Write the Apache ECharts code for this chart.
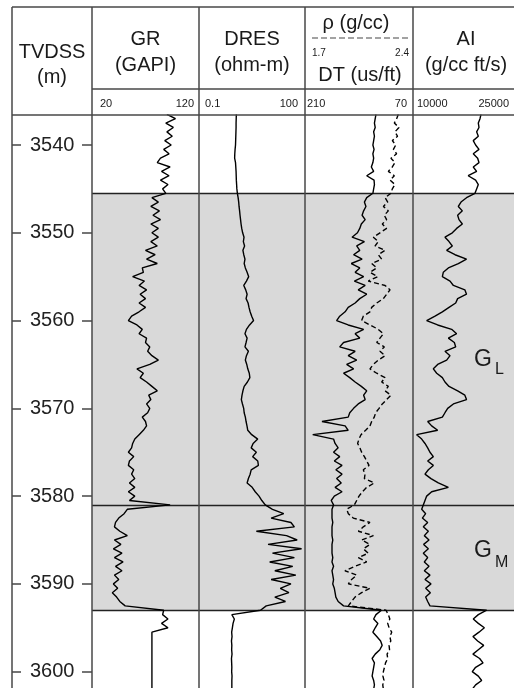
<!DOCTYPE html>
<html><head><meta charset="utf-8">
<script src="https://cdn.jsdelivr.net/npm/echarts@6/dist/echarts.min.js"></script>
<style>html,body{margin:0;padding:0;background:#fff}#c{width:514px;height:688px}</style>
</head><body><div id="c"></div>
<script>
// ---------- DATA ----------
const depth = [
3536.5,3537,3537.5,3538,3538.5,3539,3539.5,3540,3540.5,3541,
3541.5,3542,3542.5,3543,3543.5,3544,3544.5,3545,3545.5,3546,
3546.5,3547,3547.5,3548,3548.5,3549,3549.5,3550,3550.5,3551,
3551.5,3552,3552.5,3553,3553.5,3554,3554.5,3555,3555.5,3556,
3556.5,3557,3557.5,3558,3558.5,3559,3559.5,3560,3560.5,3561,
3561.5,3562,3562.5,3563,3563.5,3564,3564.5,3565,3565.5,3566,
3566.5,3567,3567.5,3568,3568.5,3569,3569.5,3570,3570.5,3571,
3571.5,3572,3572.5,3573,3573.5,3574,3574.5,3575,3575.5,3576,
3576.5,3577,3577.5,3578,3578.5,3579,3579.5,3580,3580.5,3581,
3581.5,3582,3582.5,3583,3583.5,3584,3584.5,3585,3585.5,3586,
3586.5,3587,3587.5,3588,3588.5,3589,3589.5,3590,3590.5,3591,
3591.5,3592,3592.5,3593,3593.5,3594,3594.5,3595,3595.5,3596,
3596.5,3597,3597.5,3598,3598.5,3599,3599.5,3600,3600.5,3601,
3601.5,3602];

const gr = [
90,98,89,96,90,95,88,94,87,92,
84,81,93,85,92,84,91,86,89,76,
82,75,83,77,84,75,82,76,82,75,
81,70,79,71,81,67,68,58,69,64,
71,65,70,64,70,64,57,54,62,67,
64,71,70,74,72,76,82,74,62,68,
65,71,76,81,73,75,71,74,72,67,
70,71,68,64,60,58,57,54,59,55,
54,59,57,60,55,60,54,60,55,93,
53,50,45,42,41,46,53,41,47,40,
48,41,49,42,48,41,45,40,44,39,
43,46,51,87,86,91,85,91,76,76,
76,76,76,76,76,76,76,76,76,76,
76,76];

const dres = [
1.14,1.13,1.12,1.12,1.11,1.10,1.09,1.08,1.05,1.03,
1.02,1.08,1.10,1.12,1.13,1.14,1.16,1.18,1.22,1.28,
1.33,1.36,1.41,1.45,1.50,1.55,1.62,1.72,1.88,1.80,
1.95,1.75,1.85,2.0,1.9,2.05,2.3,2.55,2.2,1.85,
2.1,2.3,2.15,2.45,2.6,2.8,3.1,3.5,2.7,2.2,
2.0,2.3,2.15,2.0,2.5,2.2,2.05,2.25,2.4,2.65,
2.75,2.35,1.9,1.75,1.65,1.58,1.7,1.84,1.9,2.05,
2.15,2.28,2.4,3.1,4.6,3.4,3.0,4.2,3.3,4.6,
4.8,3.0,2.8,2.5,2.3,3.2,3.9,5.0,6.0,7.5,
12,25,11,40,50,4.2,30,60,9,80,
12,50,10,45,14,55,11,40,20,35,
14,28,8,5.5,0.85,1.0,0.92,0.88,0.84,0.86,
0.83,0.85,0.84,0.86,0.83,0.84,0.85,0.84,0.86,0.85,
0.85,0.85];

const rho = [
2.305,2.294,2.279,2.309,2.283,2.30,2.266,2.288,2.273,2.294,
2.257,2.283,2.266,2.24,2.279,2.251,2.283,2.266,2.257,2.219,
2.236,2.208,2.24,2.214,2.229,2.201,2.229,2.186,2.143,2.175,
2.154,2.219,2.175,2.197,2.132,2.165,2.121,2.171,2.11,2.219,
2.251,2.229,2.208,2.165,2.132,2.121,2.078,2.067,2.121,2.175,
2.208,2.186,2.165,2.214,2.186,2.219,2.175,2.143,2.121,2.165,
2.219,2.197,2.24,2.219,2.257,2.229,2.201,2.18,2.158,2.149,
2.132,2.121,2.093,2.063,2.05,2.041,2.056,2.067,2.085,2.10,
2.115,2.078,2.089,2.085,2.149,2.10,2.072,2.05,2.035,2.02,
1.97,1.981,2.013,2.121,2.078,2.046,2.143,2.067,2.121,2.078,
2.11,2.046,2.10,2.024,1.959,2.035,2.002,1.981,2.121,2.067,
2.024,2.002,1.981,2.225,2.24,2.25,2.236,2.245,2.262,2.25,
2.256,2.245,2.248,2.232,2.236,2.222,2.215,2.208,2.205,2.212,
2.204,2.208];

const dt = [
118,119,120,119,121,120,121,122,120.5,122,
121,122,124,121,130,120.5,120,121,122,130,
133,131,134,136,132,137,139,142,149,133,
143,139,147,136,150,139,145,134,146,132,
141,130,139,145,154,158,165,169,154,134,
145,139,160,165,145,154,143,156,147,160,
152,145,137,130,134,132,141,147,152,154,
188,158,154,200,173,171,167,173,165,172,
162,170,162,169,163,171,162,172,176,173,
175,175,175,174,175,175,175,174,175,175,
175,174,175,173,175,174,173,174,172,171,
170,167,160,111,118,121,115.5,119,122,117,
112,110,113,119,123,120,121,122,123,121,
120,121];

const ai = [
20100,19950,19700,19800,19450,19700,18950,19300,19800,18950,
19600,19800,18950,19450,18200,19300,19700,19450,19200,17950,
17130,16730,17330,16630,16830,17330,16480,15840,14750,15350,
15840,15000,16240,17950,16730,15250,14500,14360,15500,16000,
17700,17950,16630,16340,15350,14360,13270,12030,13660,15740,
16480,15250,16140,16340,14750,15500,15000,13660,13020,13520,
14360,14750,15350,16630,17700,17950,16000,15150,14750,14360,
12180,12770,13660,10540,11290,11780,12180,12520,13020,12180,
13020,12280,11780,12670,13760,15250,12770,12030,11780,11530,
11290,11880,11390,12180,11530,12280,11680,12380,11580,12280,
11530,12180,11680,12380,11680,12520,11780,12670,11880,12580,
11880,12180,12520,20940,19700,18950,19700,20600,19800,18900,
19600,20500,19700,18900,19900,20400,19300,18800,19700,20200,
19300,18800];

const depthTicks = [3540, 3550, 3560, 3570, 3580, 3590, 3600];
const zoneLines = [3545.5, 3581, 3593];
const shadeZone = [3545.5, 3593];
const zoneNames = [["G", "L"], ["G", "M"]];

const grScale = [20, 120];
const dresScale = [0.1, 100];
const dtScale = [210, 70];
const rhoScale = [1.7, 2.4];
const aiScale = [10000, 25000];
const scaleLabels = [["20", "120"], ["0.1", "100"], ["210", "70"], ["10000", "25000"]];

// ---------- LAYOUT ----------
const FONT = "'Liberation Sans', Arial, Helvetica, sans-serif";
const INK = '#000';
const FRAME = '#474747';
const TOP = 115, BODY_H = 573;
const yMin = 3536.58, yMax = 3601.86;
const depthBox = {left: 12, width: 80};
const trackBox = [{left: 92, width: 107}, {left: 199, width: 106}, {left: 305, width: 108}, {left: 413, width: 101}];

const grids = [depthBox].concat(trackBox).map(b => ({
  left: b.left, width: b.width, top: TOP, height: BODY_H,
  show: false, containLabel: false, outerBoundsMode: 'none'
}));

function yAx(gi) {
  return {gridIndex: gi, type: 'value', inverse: true, min: yMin, max: yMax, show: false};
}
const yAxes = [
  {gridIndex: 0, type: 'value', inverse: true, min: yMin, max: yMax, position: 'left',
   axisLine: {show: false}, splitLine: {show: false},
   axisTick: {show: true, inside: true, length: 9, customValues: depthTicks, lineStyle: {color: FRAME, width: 1.5}},
   axisLabel: {show: true, inside: true, margin: 18, fontSize: 20, color: '#222', fontFamily: FONT, customValues: depthTicks, formatter: v => String(v)}},
  {gridIndex: 0, type: 'value', inverse: true, min: yMin, max: yMax, position: 'right',
   axisLine: {show: false}, splitLine: {show: false},
   axisTick: {show: true, inside: true, length: 10, customValues: depthTicks, lineStyle: {color: FRAME, width: 1.5}},
   axisLabel: {show: false}},
  yAx(1), yAx(2), yAx(3), yAx(4)
];
const xAxes = [
  {gridIndex: 0, type: 'value', min: 0, max: 1, show: false},
  {gridIndex: 1, type: 'value', min: grScale[0], max: grScale[1], show: false},
  {gridIndex: 2, type: 'log', logBase: 10, min: dresScale[0], max: dresScale[1], show: false},
  {gridIndex: 3, type: 'value', min: dtScale[1], max: dtScale[0], inverse: true, show: false},
  {gridIndex: 3, type: 'value', min: rhoScale[0], max: rhoScale[1], show: false},
  {gridIndex: 4, type: 'value', min: aiScale[0], max: aiScale[1], show: false}
];

const series = [];
[[1, 2], [2, 3], [3, 4], [5, 5]].forEach(([xi, yi]) => {
  series.push({
    type: 'line', xAxisIndex: xi, yAxisIndex: yi, data: [], z: 1, silent: true,
    markArea: {silent: true, itemStyle: {color: '#d9d9d9'}, data: [[{yAxis: shadeZone[0]}, {yAxis: shadeZone[1]}]]},
    markLine: {silent: true, symbol: ['none', 'none'], label: {show: false},
      lineStyle: {color: '#222', width: 1.3, type: 'solid'},
      data: zoneLines.map(v => ({yAxis: v}))}
  });
});
function curve(vals, xi, yi, dash) {
  return {
    type: 'line', xAxisIndex: xi, yAxisIndex: yi, z: 5, silent: true,
    showSymbol: false, symbol: 'none', smooth: false,
    lineStyle: {color: INK, width: 1.4, type: dash ? [5, 3] : 'solid'},
    data: depth.map((d, i) => [vals[i], d])
  };
}
series.push(curve(gr, 1, 2));
series.push(curve(dres, 2, 3));
series.push(curve(dt, 3, 4));
series.push(curve(rho, 4, 4, true));
series.push(curve(ai, 5, 5));

// ---------- FRAME & HEADER ----------
const g = [];
function line(x1, y1, x2, y2, w, dash) {
  g.push({type: 'line', z: 100, silent: true, shape: {x1, y1, x2, y2},
    style: {stroke: FRAME, lineWidth: w || 1.5, lineDash: dash || null}});
}
function text(t, x, y, size, align) {
  g.push({type: 'text', z: 100, silent: true,
    style: {text: t, x, y, fill: '#1a1a1a', font: size + 'px ' + FONT, align: align || 'center', verticalAlign: 'middle'}});
}
line(12, 7, 514, 7);
line(12, 7, 12, 688);
[92, 199, 305, 413].forEach(x => line(x, 7, x, 688));
line(92, 89, 514, 89);
line(12, 115, 514, 115);
line(312, 38, 409, 38, 1.2, [6, 3]);

text('TVDSS', 52, 52, 20);
text('(m)', 52, 77, 20);
text('GR', 145.5, 39, 20);
text('(GAPI)', 145.5, 65, 20);
text('DRES', 252, 39, 20);
text('(ohm-m)', 252, 65, 20);
text('ρ (g/cc)', 356, 23, 20);
text(String(rhoScale[0]), 312, 53, 10, 'left');
text(String(rhoScale[1]), 409, 53, 10, 'right');
text('DT (us/ft)', 360, 75, 20);
text('AI', 466, 39, 20);
text('(g/cc ft/s)', 466, 65, 20);

const scalePos = [[100, 194], [205, 298], [307, 407], [417, 509]];
scaleLabels.forEach((lab, i) => {
  text(lab[0], scalePos[i][0], 103.5, 11, 'left');
  text(lab[1], scalePos[i][1], 103.5, 11, 'right');
});

text(zoneNames[0][0], 483, 360, 23);
text(zoneNames[0][1], 495, 369.5, 16, 'left');
text(zoneNames[1][0], 483, 550.5, 23);
text(zoneNames[1][1], 495, 562.5, 16, 'left');

const chart = echarts.init(document.getElementById('c'), null, {renderer: 'canvas'});
chart.setOption({
  animation: false,
  backgroundColor: '#fff',
  grid: grids,
  xAxis: xAxes,
  yAxis: yAxes,
  series: series,
  graphic: g
});
</script></body></html>
